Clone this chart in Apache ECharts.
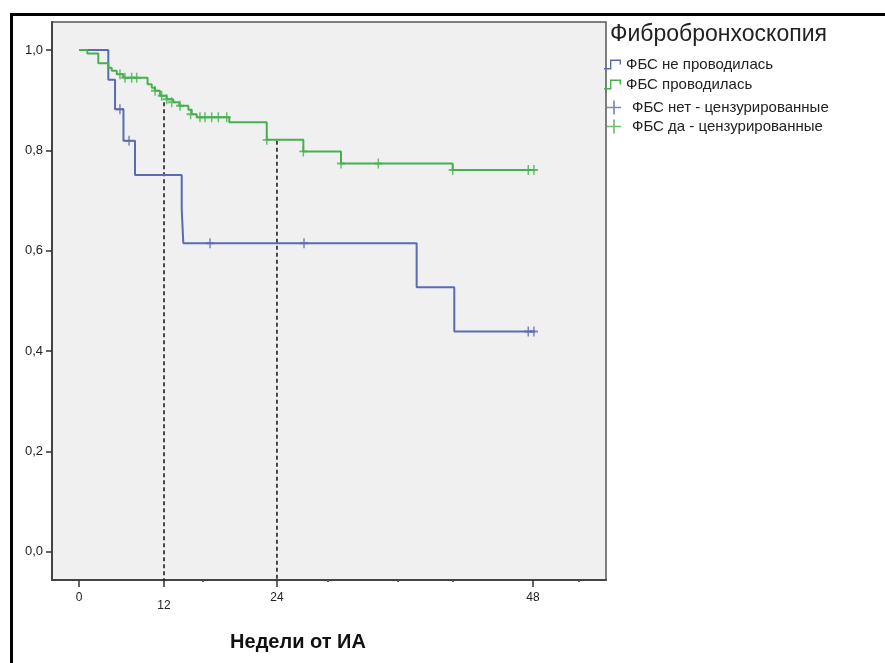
<!DOCTYPE html>
<html><head><meta charset="utf-8">
<script src="https://cdn.jsdelivr.net/npm/echarts@6/dist/echarts.min.js"></script>
<style>html,body{margin:0;padding:0;background:#fff}#c{width:885px;height:663px}</style>
</head><body><div id="c"></div>
<script>
// ---- data ----
const blueName = 'ФБС не проводилась';
const greenName = 'ФБС проводилась';
const blueCensName = 'ФБС нет - цензурированные';
const greenCensName = 'ФБС да - цензурированные';

const blueTimes = [0, 3.10, 3.81, 4.70, 5.92, 10.86, 11.03, 35.70, 39.68, 48.2];
const blueSurv  = [1.0, 0.941, 0.882, 0.819, 0.751, 0.683, 0.615, 0.527, 0.439, 0.439];
const blueCensTimes = [4.33, 5.29, 13.85, 23.79, 47.5, 48.1];
const blueCensSurv  = [0.882, 0.819, 0.615, 0.615, 0.439, 0.439];

const greenTimes = [0, 0.88, 2.04, 3.10, 3.46, 3.99, 4.68, 7.25, 7.69, 8.04, 8.56, 9.27, 9.97, 10.60, 11.56, 11.92, 12.44, 15.89, 19.85, 23.72, 27.70, 39.51, 48.2];
const greenSurv  = [1.0, 0.993, 0.974, 0.965, 0.959, 0.952, 0.945, 0.932, 0.925, 0.919, 0.909, 0.902, 0.896, 0.889, 0.881, 0.872, 0.866, 0.856, 0.821, 0.798, 0.774, 0.761, 0.761];
const greenCensTimes = [4.33, 4.86, 5.57, 6.10, 8.04, 8.74, 9.27, 9.80, 10.68, 11.80, 12.79, 13.32, 14.03, 14.73, 15.62, 19.85, 23.72, 27.70, 31.65, 39.51, 47.5, 48.1];
const greenCensSurv  = [0.952, 0.945, 0.945, 0.945, 0.919, 0.909, 0.902, 0.896, 0.889, 0.872, 0.866, 0.866, 0.866, 0.866, 0.866, 0.821, 0.798, 0.774, 0.774, 0.761, 0.761, 0.761];

// x tick positions (in the axis' linear unit) and their printed labels
const xTickValues = [0, 8.99, 20.93, 48];
const xTickLabels = ['0', '12', '24', '48'];
const xMinorDots = [13.1, 26.3, 33.7, 39.5, 52.8];
const yTickValues = [0, 0.2, 0.4, 0.6, 0.8, 1.0];

// dashed reference lines at the "12" and "24" ticks
const refX = [8.99, 20.93];
const refTop = [0.896, 0.819];

const xMin = -2.855, xMax = 55.72, yMin = -0.0565, yMax = 1.056;

const BLUE = '#5a6ab3', GREEN = '#46b04d';
const FONT = 'Liberation Sans, Arial, sans-serif';

const zip = (a, b) => a.map((v, i) => [v, b[i]]);
const plusIcon = 'path://M6.1,0H8.9V15H6.1Z M0,6.1H15V8.9H0Z';
const legendPlus = 'path://M6.6,0H8.4V15H6.6Z M0,6.6H15V8.4H0Z';
const stepIcon = 'path://M0,8.6H6V0H17V5H15.6V1.4H7.4V10H0Z';

const series = [
  { name: blueName, type: 'line', step: 'end', data: zip(blueTimes, blueSurv), showSymbol: false,
    lineStyle: { color: BLUE, width: 2 }, itemStyle: { color: BLUE }, z: 3 },
  { name: greenName, type: 'line', step: 'end', data: zip(greenTimes, greenSurv), showSymbol: false,
    lineStyle: { color: GREEN, width: 2 }, itemStyle: { color: GREEN }, z: 3 },
  { name: blueCensName, type: 'scatter', data: zip(blueCensTimes, blueCensSurv), symbol: plusIcon,
    symbolSize: [8, 10], itemStyle: { color: BLUE }, z: 4 },
  { name: greenCensName, type: 'scatter', data: zip(greenCensTimes, greenCensSurv), symbol: plusIcon,
    symbolSize: [8, 10], itemStyle: { color: GREEN }, z: 4 }
];
refX.forEach((x, i) => {
  series.push({ name: 'ref' + i, type: 'line', data: [[x, refTop[i]], [x, yMin]], showSymbol: false,
    lineStyle: { color: '#111', width: 1.5, type: [4, 3] }, z: 2, silent: true });
});

const chart = echarts.init(document.getElementById('c'), null, { renderer: 'canvas' });
chart.setOption({
  animation: false,
  backgroundColor: '#fff',
  textStyle: { fontFamily: FONT },
  title: { text: 'Фибробронхоскопия', left: 605, top: 18,
    textStyle: { fontFamily: FONT, fontSize: 23, fontWeight: 'normal', color: '#222' } },
  legend: [
    { data: [blueName, greenName], orient: 'vertical', left: 599, top: 52, itemWidth: 17, itemHeight: 10,
      itemGap: 5, icon: stepIcon, textStyle: { fontFamily: FONT, fontSize: 15, color: '#222' } },
    { data: [blueCensName, greenCensName], orient: 'vertical', left: 602, top: 95, itemWidth: 14, itemHeight: 14,
      itemGap: 4, icon: legendPlus, textStyle: { fontFamily: FONT, fontSize: 15, color: '#222', padding: [0, 0, 0, 6] } }
  ],
  graphic: [
    { type: 'rect', left: 9, top: 12, shape: { x: 0, y: 0, width: 900, height: 700 },
      style: { fill: 'none', stroke: '#000', lineWidth: 3 }, silent: true, z: 100 }
  ],
  grid: { left: 52, top: 22, right: 279, bottom: 83, show: true, backgroundColor: '#f0f0f0',
    borderColor: '#555', borderWidth: 1.5 },
  xAxis: [
    { type: 'value', min: xMin, max: xMax,
      axisLine: { show: true, onZero: false, lineStyle: { color: '#444', width: 2 } },
      axisTick: { show: true, customValues: xTickValues, length: 7, lineStyle: { color: '#333', width: 1.5 } },
      axisLabel: { customValues: xTickValues, margin: 12, color: '#222', fontSize: 12, fontFamily: FONT,
        formatter: v => { const i = xTickValues.indexOf(v); const t = i >= 0 ? xTickLabels[i] : ''; return t === '12' ? '{low|' + t + '}' : t; },
        rich: { low: { fontSize: 12, color: '#222', padding: [8, 0, 0, 0], fontFamily: FONT } } },
      splitLine: { show: false },
      name: 'Недели от ИА', nameLocation: 'middle', nameGap: 52,
      nameTextStyle: { fontFamily: FONT, fontSize: 20, fontWeight: 'bold', color: '#111', padding: [0, 62, 0, 0] } },
    { type: 'value', min: xMin, max: xMax, position: 'bottom', offset: 0,
      axisLine: { show: false, onZero: false }, axisLabel: { show: false }, splitLine: { show: false },
      axisTick: { show: true, customValues: xMinorDots, length: 2, lineStyle: { color: '#555', width: 2 } } }
  ],
  yAxis: { type: 'value', min: yMin, max: yMax,
    axisLine: { show: true, onZero: false, lineStyle: { color: '#444', width: 2 } },
    axisTick: { show: true, customValues: yTickValues, length: 6, lineStyle: { color: '#333', width: 1.5 } },
    axisLabel: { customValues: yTickValues, margin: 9, color: '#222', fontSize: 13, fontFamily: FONT,
      formatter: v => v.toFixed(1).replace('.', ',') },
    splitLine: { show: false } },
  series: series
});
</script>
</body></html>
